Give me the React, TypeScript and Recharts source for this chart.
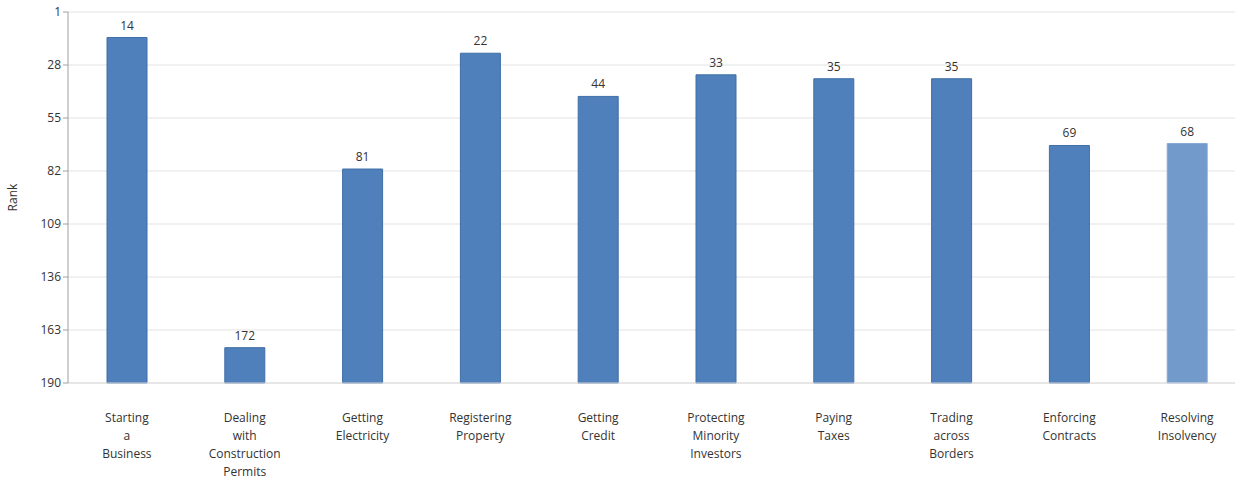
import React from 'react';
import { BarChart, Bar, XAxis, YAxis, CartesianGrid, LabelList, Cell, Label } from 'recharts';

const categories = [
  'Starting a Business',
  'Dealing with Construction Permits',
  'Getting Electricity',
  'Registering Property',
  'Getting Credit',
  'Protecting Minority Investors',
  'Paying Taxes',
  'Trading across Borders',
  'Enforcing Contracts',
  'Resolving Insolvency',
];
const ranks = [14, 172, 81, 22, 44, 33, 35, 35, 69, 68];
const rankTicks = [1, 28, 55, 82, 109, 136, 163, 190];
const worstRank = 190;

const data = categories.map((name, i) => ({
  name,
  rank: ranks[i],
  range: [worstRank, ranks[i]],
}));

const FONT = '"Open Sans", "Noto Sans", sans-serif';

const CategoryTick = (props: any) => {
  const { x, y, payload } = props;
  const lines = String(payload.value).split(' ');
  return (
    <text x={x} y={y + 31} textAnchor="middle" fill="#333" fontSize={12} fontFamily={FONT}>
      {lines.map((line, i) => (
        <tspan key={i} x={x} dy={i === 0 ? 0 : 18}>
          {line}
        </tspan>
      ))}
    </text>
  );
};

const RankLabel = (props: any) => {
  const { x, y, width, height, value } = props;
  const top = Math.min(y, y + height);
  return (
    <text x={x + width / 2} y={top - 8} textAnchor="middle" fill="#333" fontSize={12} fontFamily={FONT}>
      {value}
    </text>
  );
};

export default function App() {
  return (
    <div style={{ position: 'absolute', left: 0, top: 0, width: 1235, height: 479, overflow: 'hidden', background: '#fff' }}>
      {/* plot runs a little past the right edge, like the source */}
      <BarChart
        width={1246}
        height={479}
        data={data}
        margin={{ top: 12, right: 0, bottom: 6, left: 6 }}
      >
        <CartesianGrid vertical={false} stroke="#e3e3e3" />
        <XAxis
          dataKey="name"
          interval={0}
          height={90}
          tickLine={false}
          axisLine={{ stroke: '#dcdcdc' }}
          tick={<CategoryTick />}
        />
        <YAxis
          type="number"
          reversed
          domain={[1, worstRank]}
          ticks={rankTicks}
          interval={0}
          width={62}
          tickSize={5}
          axisLine={{ stroke: '#a0a0a0' }}
          tickLine={{ stroke: '#a0a0a0' }}
          tick={{ fill: '#333', fontSize: 12, fontFamily: FONT }}
        >
          <Label
            content={(p: any) => {
              const vb = p.viewBox;
              const cx = 12;
              const cy = vb.y + vb.height / 2;
              return (
                <text
                  x={cx}
                  y={cy}
                  transform={`rotate(-90 ${cx} ${cy})`}
                  textAnchor="middle"
                  dominantBaseline="central"
                  fill="#333"
                  fontSize={12}
                  fontFamily={FONT}
                >
                  Rank
                </text>
              );
            }}
          />
        </YAxis>
        <Bar dataKey="range" barSize={40} isAnimationActive={false}>
          {data.map((d, i) => (
            <Cell
              key={d.name}
              fill={i === data.length - 1 ? '#729bcc' : '#4f80bb'}
              stroke={i === data.length - 1 ? '#86a9d3' : '#3f6ea6'}
              strokeWidth={1}
            />
          ))}
          <LabelList dataKey="rank" content={<RankLabel />} />
        </Bar>
      </BarChart>
    </div>
  );
}
